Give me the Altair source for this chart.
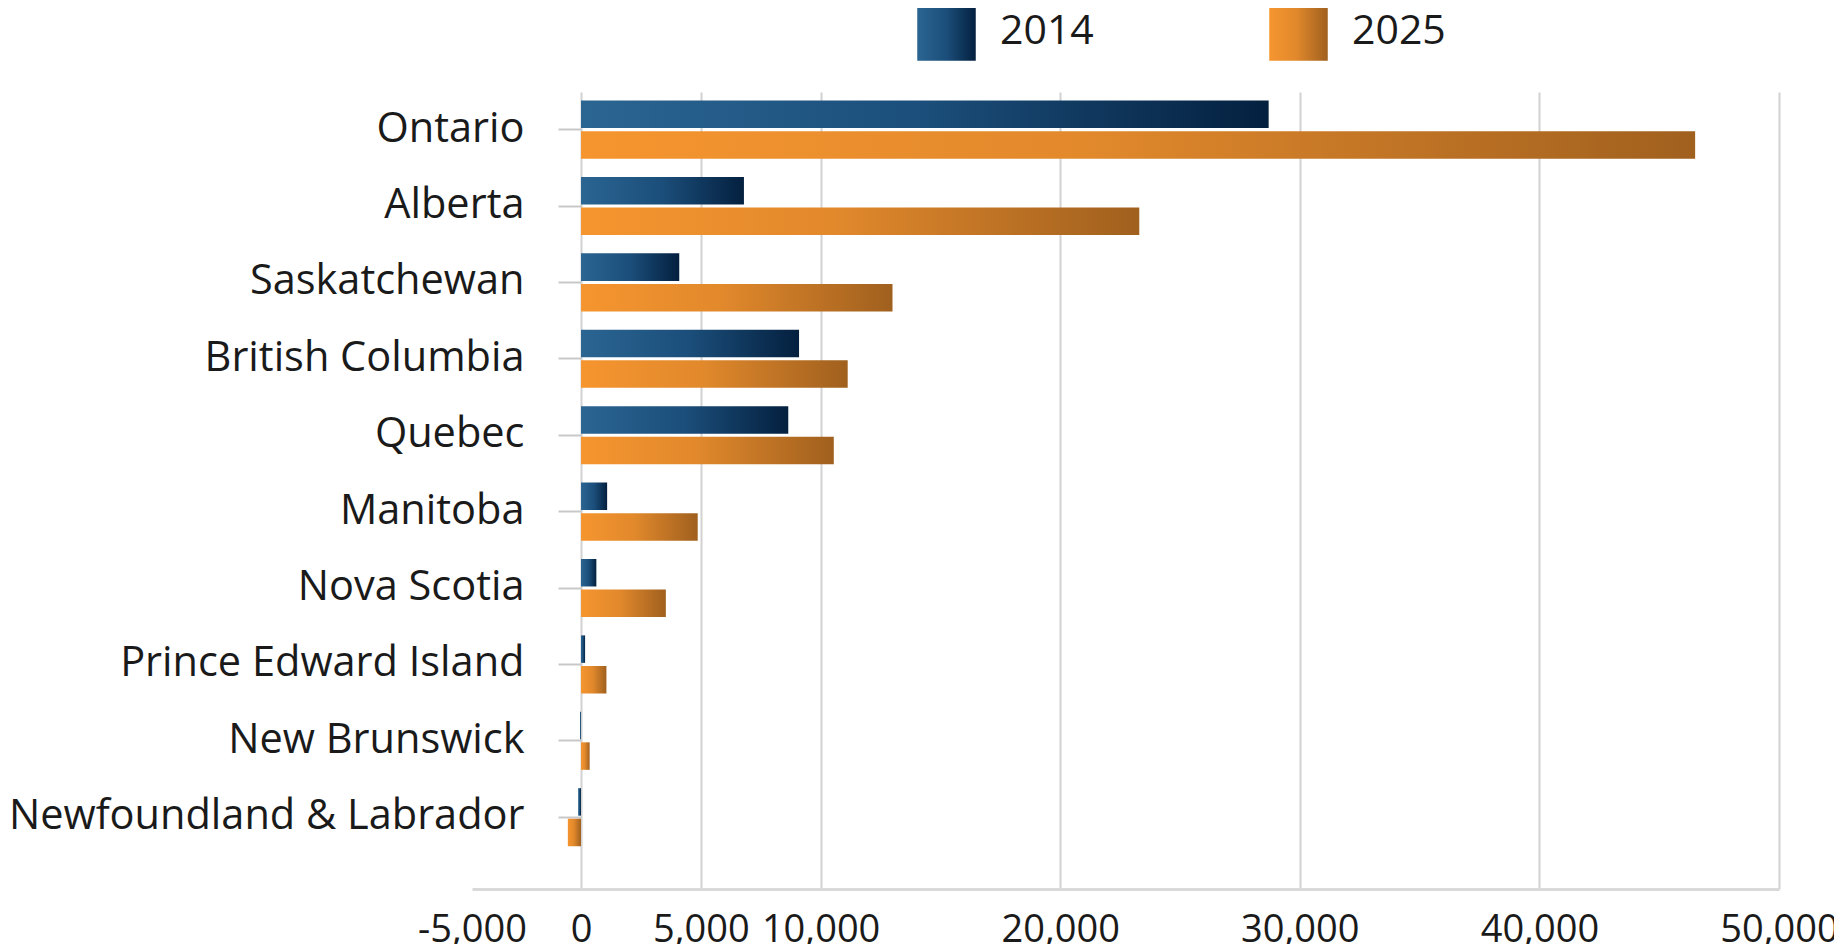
import altair as alt
import pandas as pd

provinces = [
    "Ontario", "Alberta", "Saskatchewan", "British Columbia", "Quebec",
    "Manitoba", "Nova Scotia", "Prince Edward Island", "New Brunswick",
    "Newfoundland & Labrador",
]
years = ["2014", "2025"]
values_2014 = [28700, 6800, 4100, 9100, 8650, 1090, 640, 170, -40, -120]
values_2025 = [46500, 23300, 13000, 11130, 10550, 4870, 3540, 1060, 360, -550]

x_tick_values = [-4550, 0, 5000, 10000, 20000, 30000, 40000, 50000]

rows = []
for p, a, b in zip(provinces, values_2014, values_2025):
    rows.append({"province": p, "year": "2014", "value": a})
    rows.append({"province": p, "year": "2025", "value": b})
df = pd.DataFrame(rows)

blue_grad = ("{gradient: 'linear', x1: 0, y1: 0, x2: 1, y2: 0, stops: ["
             "{offset: 0, color: '#2b6592'}, {offset: 0.5, color: '#1b4e7a'}, "
             "{offset: 1, color: '#04203f'}]}")
orange_grad = ("{gradient: 'linear', x1: 0, y1: 0, x2: 1, y2: 0, stops: ["
               "{offset: 0, color: '#f5952f'}, {offset: 0.45, color: '#e2892c'}, "
               "{offset: 1, color: '#a0601e'}]}")

FONT = "Open Sans"

chart = alt.Chart(df).mark_bar().encode(
    y=alt.Y(
        "province:N",
        sort=provinces,
        scale=alt.Scale(paddingInner=0.24, paddingOuter=0.336, align=0.167),
        axis=alt.Axis(
            title=None, offset=-109, domain=False, tickSize=23, tickWidth=2,
            tickColor="#c8c8c8", labelPadding=34, labelFontSize=41.5,
            labelFont=FONT, labelColor="#1a1a1a", labelLimit=800,
        ),
    ),
    yOffset=alt.YOffset("year:N", sort=years, scale=alt.Scale(paddingInner=0.1)),
    x=alt.X(
        "value:Q",
        scale=alt.Scale(domain=[-4550, 50000], nice=False, zero=False),
        axis=alt.Axis(
            title=None, values=x_tick_values,
            labelExpr="datum.value < 0 ? '-5,000' : format(datum.value, ',')",
            grid=True,
            gridColor={"condition": {"test": "datum.value < 0", "value": "transparent"},
                       "value": "#d2d2d2"},
            gridOpacity={"condition": {"test": "datum.value < 0", "value": 0}, "value": 1},
            gridWidth=2,
            ticks=False, tickSize=0, domainColor="#d9d9d9", domainWidth=3,
            labelFontSize=38, labelFont=FONT, labelColor="#1a1a1a",
            labelPadding=22, labelFlush=False, labelOverlap=False,
        ),
    ),
    color=alt.Color(
        "year:N",
        scale=alt.Scale(domain=years, range=[{"expr": blue_grad}, {"expr": orange_grad}]),
        legend=alt.Legend(
            title=None, orient="none", legendX=445, legendY=-90,
            direction="horizontal", columns=2, symbolType="square",
            symbolSize=3422, symbolStrokeWidth=0, labelFontSize=41,
            labelFont=FONT, labelColor="#1a1a1a", labelOffset=24,
            columnPadding=175, padding=0,
        ),
    ),
).properties(
    width=1307,
    height=797,
    autosize=alt.AutoSizeParams(type="none"),
    padding={"left": 464, "top": 84, "right": 55, "bottom": 55},
).configure(
    font=FONT,
    view=alt.ViewConfig(stroke="transparent", strokeWidth=0),
)

chart.save("out.html", embed_options={"renderer": "svg", "actions": False})
